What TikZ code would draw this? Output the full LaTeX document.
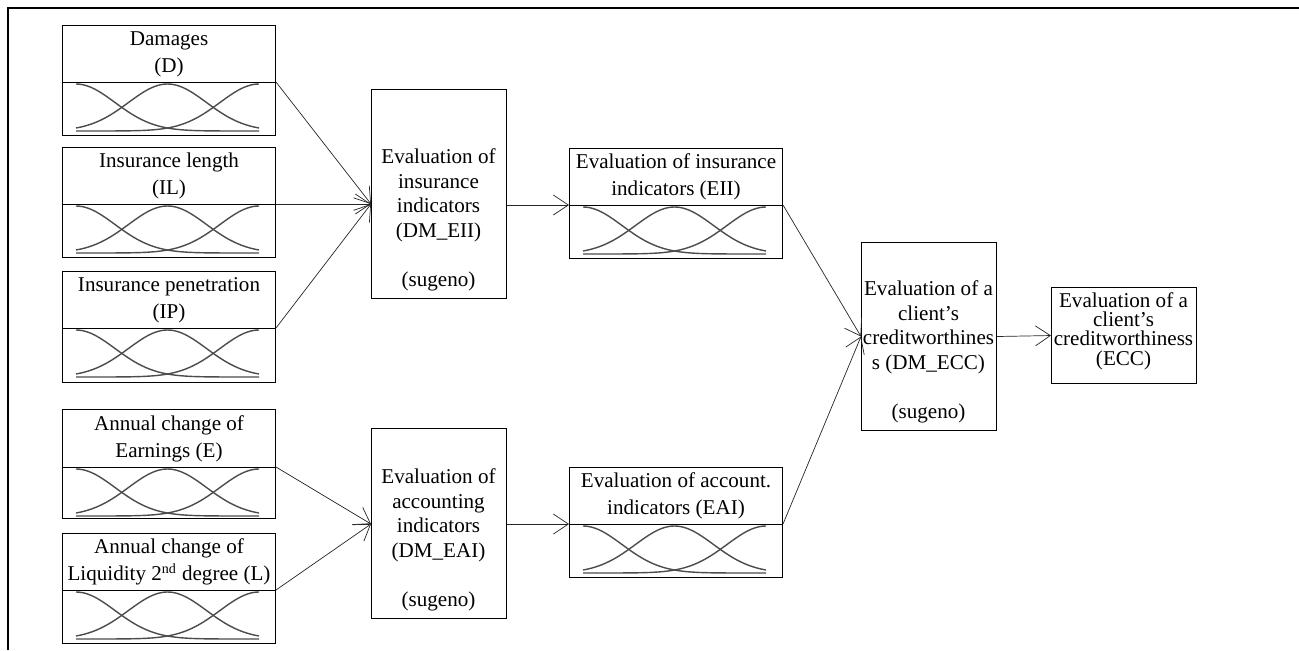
\documentclass[tikz,border=0pt]{standalone}
\usepackage{fontspec}
\setmainfont{Liberation Serif}
\usetikzlibrary{arrows.meta,calc}
\tikzset{
 boxline/.style={draw=black, line width=0.6pt},
 titlebox/.style={boxline, inner sep=0pt, anchor=north west, align=center, minimum width=4.26cm, font=\fontsize{12}{15.5}\selectfont},
 mfbox/.style={boxline, inner sep=0pt, anchor=north west, minimum width=4.26cm},
 dmbox/.style={boxline, inner sep=0pt, anchor=north west, minimum width=2.7cm},
 dmtext/.style={align=center, inner sep=0pt, font=\fontsize{12}{14}\selectfont},
 arr/.style={draw=black!85, line width=0.4pt, -{Straight Barb[length=0.3cm,width=0.4cm]}},
 mfline/.style={draw=black!70, line width=0.8pt},
 frameline/.style={draw=black, line width=0.6pt},
}
\newcommand\mfcurves[2]{%
  \foreach \c in {0,91.5,183}{
    \draw[mfline] plot[domain=0:183,samples=61,smooth] ({#1+14+\x},{#2+49-47*exp(-0.5*((\x-\c)/39)^2)});
  }}
\begin{document}
\begin{tikzpicture}[x=0.02cm,y=-0.02cm]
\useasboundingbox (0,0) rectangle (1299,650);
\draw[frameline] (8,650) -- (8,8) -- (1299,8);

% input variables
\node[titlebox, minimum height=1.14cm] (dt) at (62,25) {Damages\\(D)};
\node[mfbox, minimum height=1.06cm] (dmf) at (62,82) {};
\mfcurves{62}{82}
\node[titlebox, minimum height=1.14cm] (ilt) at (62,147) {Insurance length\\(IL)};
\node[mfbox, minimum height=1.06cm] (ilmf) at (62,204) {};
\mfcurves{62}{204}
\node[titlebox, minimum height=1.14cm] (ipt) at (62,271) {Insurance penetration\\(IP)};
\node[mfbox, minimum height=1.08cm] (ipmf) at (62,328) {};
\mfcurves{62}{328}
\node[titlebox, minimum height=1.16cm] (et) at (62,409) {Annual change of\\Earnings (E)};
\node[mfbox, minimum height=1.02cm] (emf) at (62,467) {};
\mfcurves{62}{467}
\node[titlebox, minimum height=1.14cm] (lt) at (62,533) {Annual change of\\Liquidity 2\textsuperscript{nd} degree (L)};
\node[mfbox, minimum height=1.06cm] (lmf) at (62,590) {};
\mfcurves{62}{590}

% decision modules
\node[dmbox, minimum height=4.18cm] (dmeii) at (371,89) {};
\node[dmtext] (dmeiit) at (438.5,220) {Evaluation of\\insurance\\indicators\\(DM\_EII)\\~\\(sugeno)};
\node[dmbox, minimum height=3.8cm] (dmeai) at (371,428) {};
\node[dmtext] (dmeait) at (438.5,540) {Evaluation of\\accounting\\indicators\\(DM\_EAI)\\~\\(sugeno)};

% intermediate outputs
\node[titlebox, minimum height=1.14cm] (eiit) at (569,148) {Evaluation of insurance\\indicators (EII)};
\node[mfbox, minimum height=1.06cm] (eiimf) at (569,205) {};
\mfcurves{569}{205}
\node[titlebox, minimum height=1.14cm] (eait) at (569,467) {Evaluation of account.\\indicators (EAI)};
\node[mfbox, minimum height=1.06cm] (eaimf) at (569,524) {};
\mfcurves{569}{524}

% final module
\node[dmbox, minimum height=3.76cm] (dmecc) at (861,242) {};
\node[dmtext] (dmecct) at (928.5,352) {Evaluation of a\\client’s\\creditworthines\\s (DM\_ECC)\\~\\(sugeno)};
\node[boxline, inner sep=0pt, anchor=north west, minimum width=2.9cm, minimum height=1.92cm] (ecc) at (1051,287) {};
\node[align=center, inner sep=0pt, font=\fontsize{12}{11}\selectfont] (ecct) at (1123.5,331) {Evaluation of a\\client’s\\creditworthiness\\(ECC)};

% connectors
\coordinate (in1) at (dmeii.west |- ilmf.north);
\coordinate (in2) at (dmeai.west |- eaimf.north);
\draw[arr] (dmf.north east) -- (in1);
\draw[arr] (ilmf.north east) -- (in1);
\draw[arr] (ipmf.north east) -- (in1);
\draw[arr] (dmeii.east |- eiimf.north) -- (eiimf.north west);
\draw[arr] (emf.north east) -- (in2);
\draw[arr] (lmf.north east) -- (in2);
\draw[arr] (dmeai.east |- eaimf.north) -- (eaimf.north west);
\draw[arr] (eiimf.north east) -- (dmecc.west);
\draw[arr] (eaimf.north east) -- (dmecc.west);
\draw[arr] (dmecc.east) -- (ecc.west);
\end{tikzpicture}
\end{document}
